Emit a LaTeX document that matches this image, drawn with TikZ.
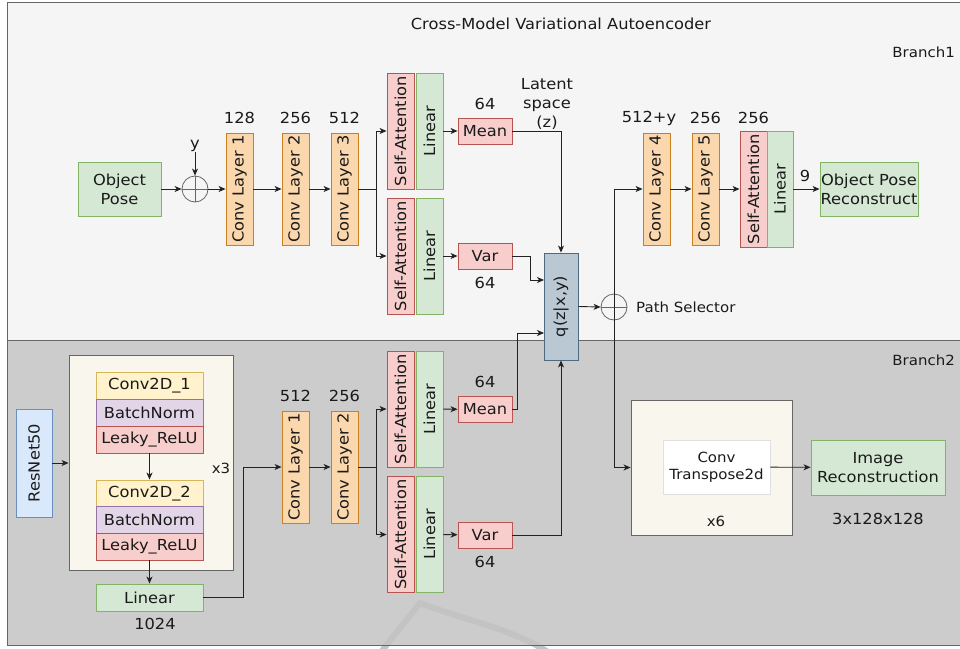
\documentclass[tikz,border=0pt]{standalone}
\usepackage{fontspec}
\setmainfont{DejaVu Sans}[FakeStretch=1.07]
\usetikzlibrary{arrows.meta,calc}

\definecolor{panelA}{HTML}{F5F5F5}
\definecolor{panelB}{HTML}{CCCCCC}
\definecolor{frame}{HTML}{666666}
\definecolor{gfill}{HTML}{D5E8D4}\definecolor{gline}{HTML}{82B366}
\definecolor{ofill}{HTML}{FAD7AC}\definecolor{oline}{HTML}{C9801F}
\definecolor{rfill}{HTML}{F8CECC}\definecolor{rline}{HTML}{B85450}
\definecolor{bfill}{HTML}{DAE8FC}\definecolor{bline}{HTML}{6C8EBF}
\definecolor{yfill}{HTML}{FFF2CC}\definecolor{yline}{HTML}{D6B656}
\definecolor{pfill}{HTML}{E1D5E7}\definecolor{pline}{HTML}{9673A6}
\definecolor{qfill}{HTML}{BAC8D3}\definecolor{qline}{HTML}{4D6A80}
\definecolor{cfill}{HTML}{F9F7ED}
\definecolor{ink}{HTML}{1A1A1A}
\definecolor{wire}{HTML}{222222}
\definecolor{faintarc}{HTML}{C3C3C3}

\newcommand{\dgmfont}{\fontsize{15.2}{19}\selectfont}
\newcommand{\dgmsmall}{\fontsize{14}{17}\selectfont}

\begin{document}
\begin{tikzpicture}[x=1pt,y=-1pt,
  blk/.style={draw, inner sep=0pt, line width=0.9pt, align=center, font=\dgmfont, text=ink},
  gbox/.style={blk, fill=gfill, draw=gline},
  obox/.style={blk, fill=ofill, draw=oline},
  rbox/.style={blk, fill=rfill, draw=rline},
  bluebox/.style={blk, fill=bfill, draw=bline},
  ybox/.style={blk, fill=yfill, draw=yline},
  pbox/.style={blk, fill=pfill, draw=pline},
  qbox/.style={blk, fill=qfill, draw=qline},
  holder/.style={blk, fill=cfill, draw=frame},
  convbox/.style={obox, minimum width=27, minimum height=112},
  attbox/.style={rbox, minimum width=27, minimum height=116},
  linbox/.style={gbox, minimum width=27, minimum height=116},
  smallbox/.style={rbox, minimum width=54, minimum height=26},
  stackbox/.style={minimum width=107, minimum height=27},
  lbl/.style={inner sep=0pt, font=\dgmfont, text=ink, align=center},
  slbl/.style={inner sep=0pt, font=\dgmsmall, text=ink, align=center},
  sel/.style={draw=frame, circle, minimum size=26, inner sep=0pt, line width=0.8pt},
  arr/.style={-{Stealth[length=7pt,width=6pt,inset=2pt]}, line width=0.9pt, draw=wire},
  wireln/.style={line width=0.9pt, draw=wire}
]
\useasboundingbox (0,0) rectangle (960,648);

% panels
\fill[panelA] (7,2) rectangle (965,340);
\fill[panelB] (7,340) rectangle (965,645);
\draw[faintarc, line width=6pt, line join=round] (381,652) -- (420,603) .. controls (470,622) and (510,628) .. (548,652);
\draw[frame, line width=1pt] (965,2) -- (7,2) -- (7,645) -- (965,645);
\draw[frame, line width=1pt] (7,340) -- (965,340);

\node[lbl] (title) at (561,24) {Cross-Model Variational Autoencoder};
\node[slbl, anchor=east] (br1) at (955,52) {Branch1};
\node[slbl, anchor=east] (br2) at (955,360) {Branch2};

% ---------------- Branch 1 encoder ----------------
\node[gbox, minimum width=83, minimum height=54] (op) at (119.5,189) {Object\\Pose};
\node[sel] (c1) at (195,189) {};
\draw[frame, line width=0.8pt] (c1.north) -- (c1.south) (c1.west) -- (c1.east);
\node[lbl] (ylab) at (195,146) {y};

\node[convbox] (a1) at (239.5,189) {\rotatebox{90}{Conv Layer 1}};
\node[convbox] (a2) at (295.5,189) {\rotatebox{90}{Conv Layer 2}};
\node[convbox] (a3) at (344.5,189) {\rotatebox{90}{Conv Layer 3}};
\node[lbl] (na1) at (239.5,118) {128};
\node[lbl] (na2) at (295.5,118) {256};
\node[lbl] (na3) at (344.5,118) {512};

\node[attbox] (sa1) at (400.5,131) {\rotatebox{90}{Self-Attention}};
\node[linbox] (la1) at (429.5,131) {\rotatebox{90}{Linear}};
\node[attbox] (sa2) at (400.5,256) {\rotatebox{90}{Self-Attention}};
\node[linbox] (la2) at (429.5,256) {\rotatebox{90}{Linear}};

\node[smallbox] (m1) at (485,131) {Mean};
\node[smallbox] (v1) at (485,256) {Var};
\node[lbl] (nm1) at (485,104) {64};
\node[lbl] (nv1) at (485,283) {64};
\node[lbl] (lat) at (547,104) {Latent\\space\\(z)};

\coordinate (sp1) at (376,189);
\draw[arr] (op) -- (c1);
\draw[arr] (ylab.south) -- (c1.north);
\draw[arr] (c1) -- (a1);
\draw[arr] (a1) -- (a2);
\draw[arr] (a2) -- (a3);
\draw[wireln] (a3) -- (sp1);
\draw[arr] (sp1) |- (sa1.west);
\draw[arr] (sp1) |- (sa2.west);
\draw[arr] (la1) -- (m1);
\draw[arr] (la2) -- (v1);

% ---------------- latent sampler ----------------
\node[qbox, minimum width=34, minimum height=107] (q) at (561,306.5) {\rotatebox{90}{q(z|x,y)}};
\coordinate (qin1) at (544,280);
\coordinate (qin2) at (544,333);
\draw[arr] (m1.east) -| (q.north);
\draw[arr] (v1.east) -- ++(18,0) |- (qin1);

\node[sel] (c2) at (614,307) {};
\draw[frame, line width=0.8pt] (c2.north) -- (c2.south) (c2.west) -- (c2.east);
\node[slbl, anchor=west] (ps) at (636,307) {Path Selector};
\draw[arr] (q.east) -- (c2.west);

% ---------------- Branch 1 decoder ----------------
\node[convbox] (a4) at (656.5,189) {\rotatebox{90}{Conv Layer 4}};
\node[convbox] (a5) at (705.5,189) {\rotatebox{90}{Conv Layer 5}};
\node[lbl] (na4) at (649,118) {512+y};
\node[lbl] (na5) at (705.5,118) {256};
\node[attbox] (sa3) at (753.5,189) {\rotatebox{90}{Self-Attention}};
\node[gbox, minimum width=26, minimum height=116] (la3) at (780,189) {\rotatebox{90}{Linear}};
\node[lbl] (nsa3) at (753.5,118) {256};
\node[gbox, minimum width=98, minimum height=54] (opr) at (869,189) {Object Pose\\Reconstruct};
\node[lbl] (n9) at (805,176) {9};

\draw[arr] (c2.center) |- (a4.west);
\draw[arr] (a4) -- (a5);
\draw[arr] (a5) -- (sa3);
\draw[arr] (la3) -- (opr);

% ---------------- Branch 2 encoder ----------------
\node[bluebox, minimum width=36, minimum height=108] (rn) at (34,463) {\rotatebox{90}{ResNet50}};
\node[holder, minimum width=164, minimum height=215] (hold) at (151,462.5) {};
\node[ybox, stackbox] (k1) at (149.5,385.5) {Conv2D\_1};
\node[pbox, stackbox] (b1) at (149.5,412.5) {BatchNorm};
\node[rbox, stackbox] (r1) at (149.5,439.5) {Leaky\_ReLU};
\node[ybox, stackbox] (k2) at (149.5,493.5) {Conv2D\_2};
\node[pbox, stackbox] (b2) at (149.5,520) {BatchNorm};
\node[rbox, stackbox] (r2) at (149.5,546.5) {Leaky\_ReLU};
\node[slbl] (x3) at (221,468) {x3};
\node[gbox, stackbox] (lb) at (149.5,597.5) {Linear};
\node[lbl] (n1024) at (155,624) {1024};

\node[convbox] (e1) at (295.5,467) {\rotatebox{90}{Conv Layer 1}};
\node[convbox] (e2) at (344.5,467) {\rotatebox{90}{Conv Layer 2}};
\node[lbl] (ne1) at (295.5,396) {512};
\node[lbl] (ne2) at (344.5,396) {256};

\node[attbox] (sa4) at (400.5,409) {\rotatebox{90}{Self-Attention}};
\node[linbox] (la4) at (429.5,409) {\rotatebox{90}{Linear}};
\node[attbox] (sa5) at (400.5,534.5) {\rotatebox{90}{Self-Attention}};
\node[linbox] (la5) at (429.5,534.5) {\rotatebox{90}{Linear}};

\node[smallbox] (m2) at (485,409.5) {Mean};
\node[smallbox] (v2) at (485,535) {Var};
\node[lbl] (nm2) at (485,382) {64};
\node[lbl] (nv2) at (485,562) {64};

\coordinate (sp2) at (376,467);
\draw[arr] (rn) -- (hold.west |- rn.east);
\draw[arr] (r1) -- (k2);
\draw[arr] (r2) -- (lb);
\draw[arr] (lb.east) -- ++(40,0) |- (e1.west);
\draw[arr] (e1) -- (e2);
\draw[wireln] (e2) -- (sp2);
\draw[arr] (sp2) |- (sa4.west);
\draw[arr] (sp2) |- (sa5.west);
\draw[arr] (la4) -- (m2);
\draw[arr] (la5) -- (v2);
\draw[arr] (m2.east) -- ++(5,0) |- (qin2);
\draw[arr] (v2.east) -| (q.south);

% ---------------- Branch 2 decoder ----------------
\node[holder, minimum width=161, minimum height=135] (dec) at (711.5,467.5) {};
\node[blk, fill=white, draw=black!12, minimum width=107, minimum height=54, font=\dgmsmall] (ct) at (716.5,467) {Conv\\Transpose2d};
\node[slbl] (x6) at (716,521) {x6};
\node[gbox, minimum width=134, minimum height=55] (ir) at (878,467.5) {Image\\Reconstruction};
\node[lbl] (nres) at (878,519) {3x128x128};

\draw[arr] (c2.center) |- (dec.west);
\draw[arr] (ct) -- (ir);
\end{tikzpicture}
\end{document}
